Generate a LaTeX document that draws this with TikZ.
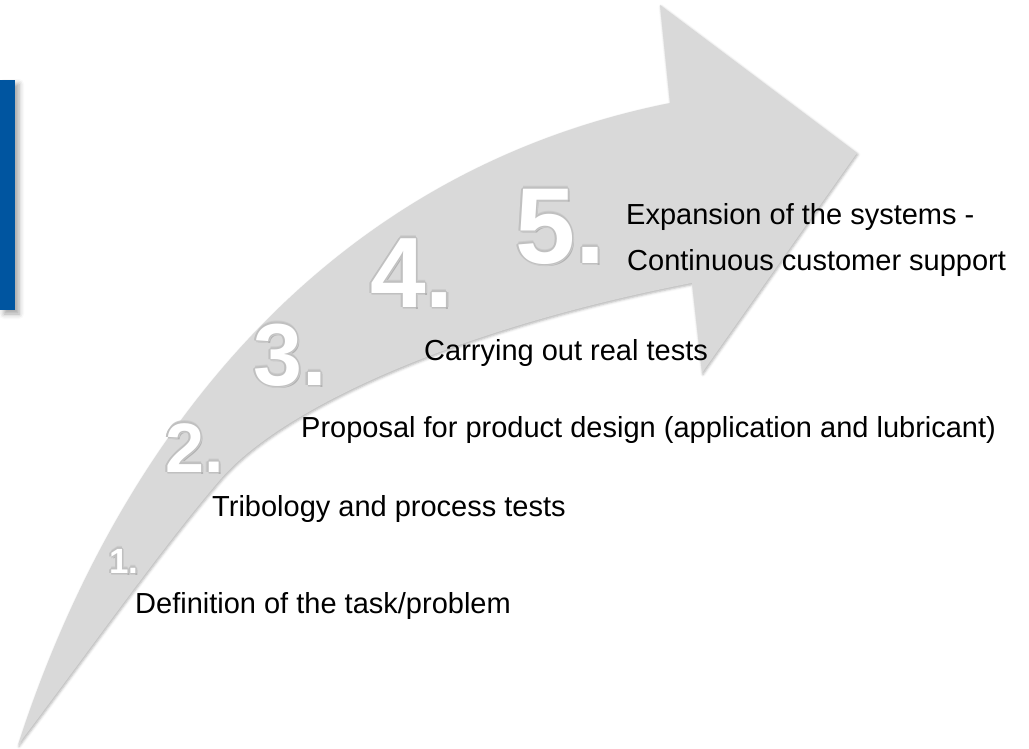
\documentclass[tikz,border=0pt]{standalone}
\usepackage{fontspec}
\setmainfont{Liberation Sans}
\usetikzlibrary{shadows.blur}
\definecolor{barblue}{RGB}{0,85,160}
\definecolor{arrowgray}{RGB}{217,217,217}
\definecolor{softgray}{RGB}{204,204,204}
\definecolor{halogray}{RGB}{192,192,192}
\definecolor{dropgray}{RGB}{178,178,178}
% white digits with a soft grey halo and a drop shadow
\newcommand\halonum[1]{%
  \rlap{\kern2pt\raisebox{-2pt}{\textcolor{dropgray}{#1}}}%
  \rlap{\kern2.2pt\textcolor{softgray}{#1}}%
  \rlap{\kern-2.2pt\textcolor{softgray}{#1}}%
  \rlap{\raisebox{2.2pt}{\textcolor{softgray}{#1}}}%
  \rlap{\raisebox{-2.2pt}{\textcolor{softgray}{#1}}}%
  \rlap{\kern1.3pt\textcolor{halogray}{#1}}%
  \rlap{\kern-1.3pt\textcolor{halogray}{#1}}%
  \rlap{\raisebox{1.3pt}{\textcolor{halogray}{#1}}}%
  \rlap{\raisebox{-1.3pt}{\textcolor{halogray}{#1}}}%
  \rlap{\kern0.9pt\raisebox{0.9pt}{\textcolor{halogray}{#1}}}%
  \rlap{\kern-0.9pt\raisebox{-0.9pt}{\textcolor{halogray}{#1}}}%
  \rlap{\kern0.9pt\raisebox{-0.9pt}{\textcolor{halogray}{#1}}}%
  \rlap{\kern-0.9pt\raisebox{0.9pt}{\textcolor{halogray}{#1}}}%
  \textcolor{white}{#1}}
\begin{document}
\begin{tikzpicture}[x=1pt,y=-1pt,
  label/.style={anchor=base west, inner sep=0pt, text=black,
    font=\fontsize{29}{29}\selectfont},
  stepnum/.style={anchor=base west, inner sep=0pt,
    font=\bfseries\fontsize{#1}{#1}\selectfont}]
\useasboundingbox (0,0) rectangle (1029,749);

% blue side bar
\fill[barblue, blur shadow={shadow xshift=4pt, shadow yshift=-4pt,
  shadow blur radius=5pt, shadow opacity=35}] (0,80) rectangle (15,310);

% the big curved arrow
\path[fill=arrowgray, blur shadow={shadow xshift=1pt, shadow yshift=-1.5pt,
  shadow blur radius=2.5pt, shadow opacity=30}]
  (18,745) .. controls (110,460) and (310,175) .. (670,103)
  -- (660,5) -- (857,153) -- (702,373) -- (692,283)
  .. controls (450,330) and (280,410) .. (220,480)
  .. controls (160,550) and (90,650) .. (18,745)
  -- cycle;

% step numbers
\node[stepnum=35]  (n1) at (109,573) {\halonum{1.}};
\node[stepnum=70]  (n2) at (165,472) {\halonum{2.}};
\node[stepnum=88]  (n3) at (253,385) {\halonum{3.}};
\node[stepnum=100] (n4) at (370,307) {\halonum{4.}};
\node[stepnum=108] (n5) at (515,263) {\halonum{5.}};

% step descriptions
\node[label] (t1) at (135,613) {Definition of the task/problem};
\node[label] (t2) at (212,516) {Tribology and process tests};
\node[label] (t3) at (301,437) {Proposal for product design (application and lubricant)};
\node[label] (t4) at (424,360) {Carrying out real tests};
\node[label] (t5a) at (626,225) {Expansion of the systems -};
\node[label] (t5b) at (627,270) {Continuous customer support};
\end{tikzpicture}
\end{document}
